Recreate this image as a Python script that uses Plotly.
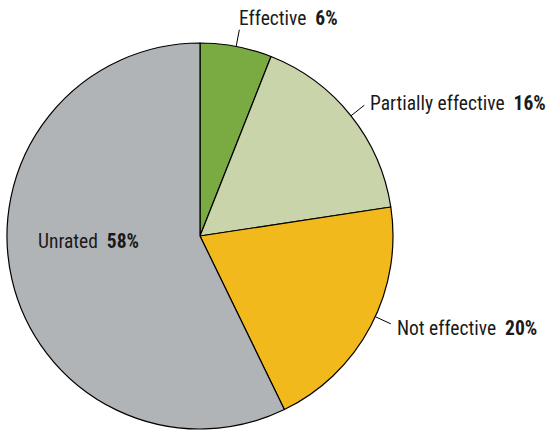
import math
import plotly.graph_objects as go

# slice shares and the printed percentages
labels = ["Effective", "Partially effective", "Not effective", "Unrated"]
shares = [6.0, 16.6, 20.2, 57.2]
pct_text = ["6%", "16%", "20%", "58%"]
colors = ["#7aab42", "#c9d4aa", "#f2b91c", "#b1b4b7"]

W, H = 548, 432
FONT = "Roboto Condensed, DejaVu Sans Condensed, Liberation Sans Narrow, Arial Narrow, Roboto, sans-serif"

# pie placement in pixels
cx, cy, R = 200, 236, 193


def px(x):
    return x / W


def py(y):
    return 1 - y / H


fig = go.Figure()
fig.add_trace(go.Pie(
    labels=labels,
    values=shares,
    sort=False,
    direction="clockwise",
    rotation=0,
    marker=dict(colors=colors, line=dict(color="black", width=1.2)),
    textinfo="none",
    hoverinfo="label+percent",
    showlegend=False,
    domain=dict(x=[px(cx - R), px(cx + R)], y=[py(cy + R), py(cy - R)]),
))

# mid angle of each slice, clockwise from 12 o'clock
total = sum(shares)
mids = []
acc = 0
for v in shares:
    mids.append((acc + v / 2) / total * 360)
    acc += v

nb = "\u00a0"
shapes = []
annotations = []
# leader lines for the three outside labels
anchors = {0: ("left", "bottom", -2, 2), 1: ("left", "middle", 4, -2), 2: ("left", "middle", 4, 5)}
for i, (xa, ya, dx, dy) in anchors.items():
    a = math.radians(mids[i] - (3 if i == 2 else 0))
    sx, sy = math.sin(a), -math.cos(a)
    x0, y0 = cx + sx * R, cy + sy * R
    x1, y1 = cx + sx * (R + 17), cy + sy * (R + 17)
    shapes.append(dict(type="line", xref="paper", yref="paper",
                       x0=px(x0), y0=py(y0), x1=px(x1), y1=py(y1),
                       line=dict(color="black", width=1)))
    annotations.append(dict(
        x=px(x1 + dx), y=py(y1 + dy), xref="paper", yref="paper",
        xanchor=xa, yanchor=ya, showarrow=False,
        text=f"{labels[i]}{nb}{nb}<b>{pct_text[i]}</b>",
        font=dict(family=FONT, size=19.5, color="#1a1a1a"),
    ))

# label inside the big grey slice
annotations.append(dict(
    x=px(36), y=py(241), xref="paper", yref="paper",
    xanchor="left", yanchor="middle", showarrow=False,
    text=f"{labels[3]}{nb}{nb}<b>{pct_text[3]}</b>",
    font=dict(family=FONT, size=19.5, color="#1a1a1a"),
))

fig.update_layout(
    width=W, height=H,
    margin=dict(l=0, r=0, t=0, b=0),
    paper_bgcolor="white",
    plot_bgcolor="white",
    shapes=shapes,
    annotations=annotations,
)

# drop the default 8px page margin so the figure sits at the window corner
fig.write_html("out.html", config={"displayModeBar": False},
               post_script="document.body.style.margin='0';")
